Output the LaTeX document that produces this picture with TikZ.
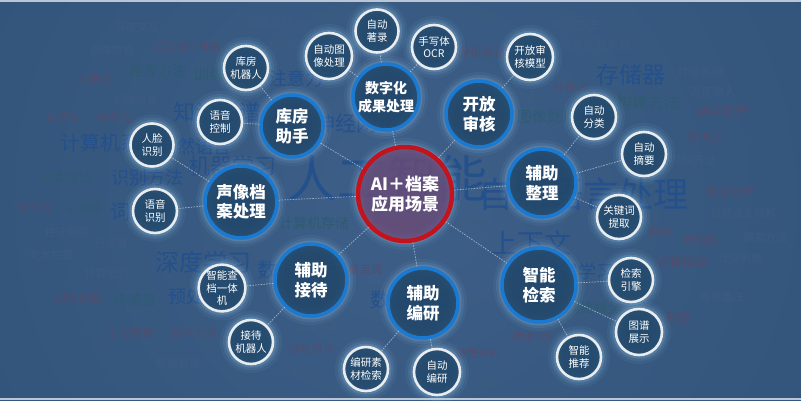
\documentclass[tikz,border=0pt]{standalone}
\usepackage{fontspec}
\setmainfont{Noto Sans CJK SC}
\definecolor{bgc}{HTML}{33557B}
\definecolor{bgin}{HTML}{3D5F88}
\definecolor{stripc}{HTML}{B9C7D4}
\definecolor{wb}{HTML}{24508C}
\definecolor{wt}{HTML}{2D5B6E}
\definecolor{wr}{HTML}{574B6B}
\definecolor{wd}{HTML}{405C80}
\definecolor{mainfill}{HTML}{21476A}
\definecolor{ringblue}{HTML}{1A7AD2}
\definecolor{cfill}{HTML}{6A4C78}
\definecolor{cring}{HTML}{C3131C}
\definecolor{glowc}{HTML}{A8DBFF}
\definecolor{smallfill}{HTML}{234A6C}
\definecolor{smallring}{HTML}{E9EDF0}
\definecolor{linkc}{HTML}{DDE8F2}
\tikzset{
  glow/.style={preaction={draw=glowc, line width=18pt, draw opacity=0.05},
               preaction={draw=glowc, line width=12pt, draw opacity=0.09},
               preaction={draw=glowc, line width=7pt, draw opacity=0.16}},
  hub/.style={circle, minimum size=#1, inner sep=0pt, glow, draw=ringblue, line width=3.5pt,
              fill=mainfill, fill opacity=0.88, text opacity=1, text=white, align=center,
              font=\fontsize{16.5}{19.5}\selectfont\bfseries},
  leaf/.style={circle, minimum size=#1, inner sep=0pt, glow, draw=smallring, line width=2.6pt,
               fill=smallfill, fill opacity=0.9, text opacity=1, text=white, align=center,
               font=\fontsize{10.5}{12.5}\selectfont},
  core/.style={circle, minimum size=94pt, inner sep=0pt, glow, draw=cring, line width=4.5pt,
               fill=cfill, fill opacity=0.8, text opacity=1, text=white, align=center,
               font=\fontsize{17}{19.5}\selectfont\bfseries},
  link/.style={draw=linkc, draw opacity=0.6, line width=0.7pt, dash pattern=on 1.6pt off 1.2pt},
  word/.style={inner sep=0pt}
}
\begin{document}
\begin{tikzpicture}[x=1pt,y=-1pt]
\useasboundingbox (0,0) rectangle (801,400);
\fill[bgc] (0,0) rectangle (801,400);
\shade[inner color=bgin, outer color=bgc] (405,200) circle (460);
\fill[stripc] (0,0) rectangle (801,2);
\fill[stripc] (0,397.5) rectangle (801,400);
% word cloud: prominent words
\foreach \x/\y/\s/\c/\t [count=\i] in {
 387/178/50/wb/人工智能, 583/194/35/wb/自然语言处理, 203/262/24/wb/深度学习,
 232/166/22/wb/机器学习, 356/123/21/wb/神经网络, 217/112/22/wb/知识图谱,
 631/75/23/wb/存储器, 531/243/27/wb/上下文, 147/178/18/wb/识别方法,
 110/143/20/wb/计算机系统, 195/147/18/wb/自然语言, 296/79/18/wb/注意力,
 195/297/18/wb/预处理, 140/212/20/wb/词向量, 578/272/18/wb/机器学习,
 410/300/20/wb/数据挖掘, 297/270/20/wb/数据分析}
 \node[word, name=w\i, text=\c, font=\fontsize{\s}{\s}\selectfont] at (\x,\y) {\t};
% word cloud: faint words
\foreach \x/\y/\s/\c/\t [count=\i] in {
 225/74/16/wt/训练数据, 158/71/14/wt/推荐方法, 648/102/16/wt/构建方法,
 547/117/15/wt/图像处理, 66/178/13/wt/分类方法, 135/300/14/wt/传感器,
 580/308/14/wt/神经网络模型, 468/226/15/wd/数据集, 314/223/14/wt/计算机存储,
 481/300/14/wd/客户端, 477/278/14/wd/用户,
 95/80/12/wr/大数据, 184/47/12/wr/人工神经网络, 115/118/12/wr/结构化,
 35/208/12/wr/标识符, 78/298/12/wr/训练数据, 130/333/12/wr/生成模型,
 193/333/12/wr/自动生成, 311/349/12/wr/接收用户, 398/226/14/wr/文本数据,
 365/270/12/wr/麦克风, 570/87/12/wr/分布式, 482/52/12/wr/身份验证,
 722/112/13/wr/数字助理, 705/137/12/wr/数据源, 730/192/12/wr/情感分析,
 700/240/12/wr/准确性, 682/263/13/wr/语言模型, 678/318/13/wr/数据,
 535/337/11/wr/图像识别, 478/353/11/wr/数据分析,
 575/25/12/wd/学习方法, 595/45/12/wd/语音交互系统, 700/72/12/wd/对话系统,
 712/92/12/wd/语音输入, 525/97/14/wd/文本, 137/27/11/wd/深度交互,
 112/50/11/wd/图像数据, 84/208/12/wt/区块链, 67/232/11/wd/特征提取,
 51/255/11/wd/文本挖掘, 111/243/11/wd/分词器, 63/117/11/wr/自适应,
 136/100/11/wd/网络设备, 107/273/11/wd/计算能力, 743/213/11/wd/自然语言理解,
 765/237/11/wd/搜索方法, 740/258/11/wd/社交网络, 722/297/11/wd/推荐算法,
 299/372/11/wd/文本分析, 178/363/11/wd/数据管理, 318/325/11/wd/图像模型,
 693/160/12/wd/提取方法, 415/260/12/wd/预训练, 660/232/12/wr/参数,
 270/22/11/wd/图像识别, 282/44/11/wd/大数据}
 \node[word, name=f\i, text=\c, text opacity=0.8, font=\fontsize{\s}{\s}\selectfont] at (\x,\y) {\t};
% center
\node[core] (c) at (405,194) {AI＋档案\\应用场景};
% hubs
\node[hub=62pt] (kf) at (292,126) {库房\\助手};
\node[hub=66pt, font=\fontsize{14}{18}\selectfont\bfseries] (sz) at (386,97) {数字化\\成果处理};
\node[hub=66pt] (kfs) at (479,114) {开放\\审核};
\node[hub=68pt] (zl) at (542,183) {辅助\\整理};
\node[hub=74pt] (js) at (539,285) {智能\\检索};
\node[hub=70pt] (by) at (423,303) {辅助\\编研};
\node[hub=72pt] (jd) at (311,280) {辅助\\接待};
\node[hub=72pt] (sx) at (241,202) {声像档\\案处理};
% leaves
\node[leaf=44pt] (s1) at (246,68) {库房\\机器人};
\node[leaf=44pt] (s2) at (220,122) {语音\\控制};
\node[leaf=43pt] (s3) at (152,145) {人脸\\识别};
\node[leaf=44pt] (s4) at (155,211) {语音\\识别};
\node[leaf=46pt] (s5) at (329,56) {自动图\\像处理};
\node[leaf=43pt] (s6) at (377,31) {自动\\著录};
\node[leaf=44pt] (s7) at (434,47) {手写体\\OCR};
\node[leaf=46pt] (s8) at (530,57) {开放审\\核模型};
\node[leaf=44pt] (s9) at (594,117) {自动\\分类};
\node[leaf=44pt] (s10) at (644,154) {自动\\摘要};
\node[leaf=44pt] (s11) at (619,217) {关键词\\提取};
\node[leaf=44pt] (s12) at (631,280) {检索\\引擎};
\node[leaf=46pt] (s13) at (639,332) {图谱\\展示};
\node[leaf=44pt] (s14) at (579,357) {智能\\推荐};
\node[leaf=46pt] (s15) at (437,372) {自动\\编研};
\node[leaf=44pt] (s16) at (366,369) {编研素\\材检索};
\node[leaf=44pt] (s17) at (251,342) {接待\\机器人};
\node[leaf=46pt] (s18) at (222,288) {智能查\\档一体\\机};
% links
\foreach \h in {kf,sz,kfs,zl,js,by,jd,sx} \draw[link] (c) -- (\h);
\foreach \a/\b in {kf/s1, kf/s2, sx/s3, sx/s4, sz/s5, sz/s6, sz/s7, kfs/s8,
  zl/s9, zl/s10, zl/s11, js/s12, js/s13, js/s14, by/s15, by/s16, jd/s17, jd/s18}
  \draw[link] (\a) -- (\b);
\end{tikzpicture}
\end{document}
